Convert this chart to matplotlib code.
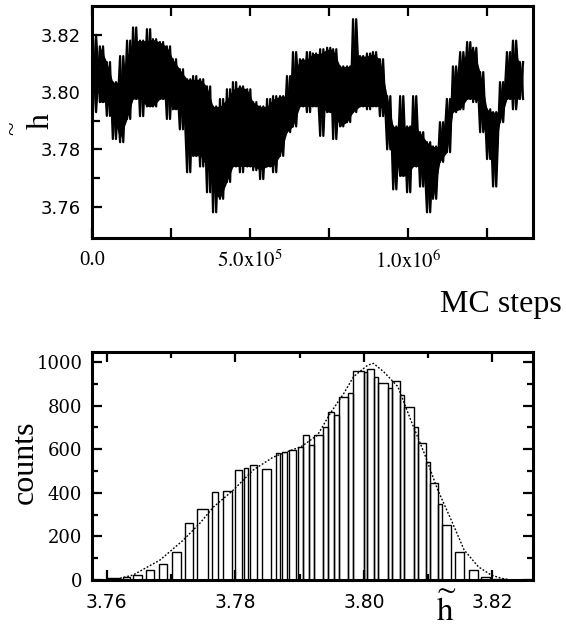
import numpy as np
import matplotlib
matplotlib.use("Agg")
import matplotlib.pyplot as plt

plt.rcParams['mathtext.fontset'] = 'stix'

# --- top panel: h~ versus MC steps (upper / lower envelope read per slice) ---
steps_k = [3, 25, 47, 66, 89, 111, 130, 152, 174, 193, 215, 237, 256, 278, 301,
           320, 342, 364, 383, 405, 427, 446, 468, 491, 510, 532, 554, 573, 595,
           617, 636, 658, 680, 699, 722, 744, 763, 785, 807, 826, 848, 870, 889,
           911, 934, 953, 975, 997, 1016, 1038, 1060, 1079, 1101, 1123, 1142,
           1165, 1187, 1206, 1228, 1250, 1269, 1291, 1313, 1332, 1354]
h_hi = [3.820, 3.816, 3.8105, 3.8035, 3.8126, 3.818, 3.8226, 3.818, 3.822, 3.8185,
        3.8175, 3.816, 3.8115, 3.808, 3.8045, 3.8056, 3.8045, 3.802, 3.795, 3.7976,
        3.801, 3.8035, 3.802, 3.801, 3.7965, 3.795, 3.7976, 3.7986, 3.7986, 3.8056,
        3.814, 3.8115, 3.814, 3.8135, 3.815, 3.8155, 3.815, 3.809, 3.809, 3.8255,
        3.8126, 3.8135, 3.814, 3.8115, 3.7986, 3.788, 3.7986, 3.788, 3.7986, 3.786,
        3.7825, 3.781, 3.7895, 3.7976, 3.809, 3.814, 3.8175, 3.8155, 3.807, 3.794,
        3.793, 3.8035, 3.814, 3.818, 3.8105]
h_lo = [3.793, 3.7965, 3.7917, 3.7836, 3.7825, 3.7906, 3.7976, 3.7916, 3.795, 3.795,
        3.7976, 3.7906, 3.794, 3.787, 3.772, 3.7777, 3.774, 3.765, 3.758, 3.7627,
        3.7686, 3.774, 3.772, 3.774, 3.7727, 3.7696, 3.774, 3.772, 3.7777, 3.786,
        3.788, 3.795, 3.793, 3.795, 3.7847, 3.793, 3.7836, 3.788, 3.7895, 3.793,
        3.795, 3.794, 3.795, 3.7916, 3.780, 3.766, 3.7707, 3.765, 3.774, 3.767,
        3.758, 3.7627, 3.7756, 3.779, 3.793, 3.794, 3.7976, 3.7965, 3.786, 3.7766,
        3.767, 3.7895, 3.7976, 3.794, 3.7976]

# --- bottom panel: histogram of h~ ---
bin_left = [3.7600, 3.7609, 3.7625, 3.7641, 3.7661, 3.7681, 3.7702, 3.7722, 3.7741,
            3.7763, 3.7781, 3.7800, 3.7814, 3.7823, 3.7842, 3.7863, 3.7872, 3.7883,
            3.7897, 3.7905, 3.7914, 3.7922, 3.7936, 3.7944, 3.7953, 3.7961, 3.7975,
            3.7983, 3.8000, 3.8005, 3.8016, 3.8022, 3.8038, 3.8044, 3.8056, 3.8063,
            3.8078, 3.8084, 3.8097, 3.8103, 3.8116, 3.8122, 3.8142, 3.8163, 3.8183,
            3.8202]
bin_right = [3.7609, 3.7620, 3.7636, 3.7655, 3.7673, 3.7694, 3.7716, 3.7734, 3.7758,
             3.7773, 3.7795, 3.7811, 3.7820, 3.7834, 3.7856, 3.7870, 3.7881, 3.7895,
             3.7905, 3.7914, 3.7922, 3.7936, 3.7944, 3.7953, 3.7961, 3.7975, 3.7983,
             3.8000, 3.8005, 3.8016, 3.8022, 3.8038, 3.8044, 3.8056, 3.8063, 3.8078,
             3.8084, 3.8097, 3.8103, 3.8116, 3.8122, 3.8136, 3.8156, 3.8177, 3.8197,
             3.8219]
counts = [8, 10, 15, 23, 46, 73, 128, 261, 326, 404, 410, 505, 513, 527, 508, 583,
          588, 598, 611, 665, 620, 665, 700, 772, 757, 841, 860, 960, 955, 968, 930,
          905, 880, 914, 850, 795, 700, 628, 540, 445, 350, 252, 128, 46, 14, 5]

fit_x = [3.761, 3.7641, 3.7683, 3.7719, 3.7745, 3.7766, 3.7797, 3.7828, 3.7859,
         3.7891, 3.7902, 3.7928, 3.7948, 3.7969, 3.7984, 3.8006, 3.8015, 3.8031,
         3.8053, 3.8073, 3.8094, 3.8115, 3.8136, 3.8156, 3.8178, 3.8198, 3.8214, 3.823]
fit_y = [0, 23, 92, 183, 261, 335, 413, 505, 564, 600, 611, 665, 766, 857, 933,
         986, 994, 955, 887, 734, 582, 413, 275, 138, 61, 23, 8, 0]

fig = plt.figure(figsize=(5.66, 6.28), dpi=100)
ax1 = fig.add_axes([0.1625, 0.621, 0.779, 0.369])
ax2 = fig.add_axes([0.1625, 0.0764, 0.779, 0.363])

# crossing zig-zags between lower and upper envelope -> dense noisy trace
lo = np.array(h_lo)
hi = np.array(h_hi)
t = np.array(steps_k) * 1e3
zx = np.column_stack([t, t + 1.0e4]).ravel()
zy_a = np.column_stack([lo, hi]).ravel()
zy_b = np.column_stack([hi, lo]).ravel()
ax1.plot(np.concatenate([[0.0], zx]), np.concatenate([[3.820], zy_a]),
         color="black", lw=1.6)
ax1.plot(zx, zy_b, color="black", lw=1.6)
ax1.fill_between(zx, zy_a, zy_b, color="black", lw=0)
# band shared by neighbouring slices
ax1.fill_between(t[1:], np.maximum(lo[:-1], lo[1:]), np.minimum(hi[:-1], hi[1:]),
                 color="black", lw=0)

ax1.set_xlim(0, 1.395e6)
ax1.set_ylim(3.749, 3.830)
ax1.set_xticks([0, 2.5e5, 5e5, 7.5e5, 1e6, 1.25e6])
ax1.set_xticklabels(["0.0", "", r"$5.0\mathrm{x}10^5$", "", r"$1.0\mathrm{x}10^6$", ""],
                    fontsize=15, family="Liberation Serif")
ax1.set_yticks([3.76, 3.78, 3.80, 3.82])
ax1.set_yticklabels(["3.76", "3.78", "3.80", "3.82"], fontsize=13, family="DejaVu Sans")
ax1.set_yticks([3.77, 3.79, 3.81], minor=True)
ax1.tick_params(direction="in", top=True, right=False, length=7, width=1.6, pad=8)
ax1.tick_params(which="minor", direction="in", length=6, width=1.6)
ax1.tick_params(axis="x", pad=9)

# histogram
ax2.bar(bin_left, counts, width=np.array(bin_right) - np.array(bin_left), align="edge",
        fill=False, edgecolor="black", lw=1.0)
ax2.plot(fit_x, fit_y, color="black", lw=1.0, ls=(0, (1.3, 1.3)))
ax2.set_xlim(3.7577, 3.8263)
ax2.set_ylim(0, 1046)
ax2.set_xticks([3.76, 3.78, 3.80, 3.82])
ax2.set_xticklabels(["3.76", "3.78", "3.80", "3.82"], fontsize=13.5, family="DejaVu Sans")
ax2.set_xticks([3.77, 3.79, 3.81], minor=True)
ax2.set_yticks(range(0, 1001, 200))
ax2.set_yticklabels([str(v) for v in range(0, 1001, 200)], fontsize=13, family="DejaVu Serif")
ax2.set_yticks(range(100, 1001, 200), minor=True)
ax2.tick_params(direction="in", top=True, right=True, length=7, width=1.6, pad=7)
ax2.tick_params(which="minor", direction="in", top=True, right=True, length=4, width=1.6)
ax2.tick_params(axis="x", pad=9)

for ax in (ax1, ax2):
    for s in ax.spines.values():
        s.set_linewidth(2.2)

# labels
fig.text(562 / 566, 1 - 312 / 628, "MC steps", fontsize=23, family="Liberation Serif",
         ha="right", va="baseline")
fig.text(25 / 566, 1 - 462 / 628, "counts", fontsize=23, family="Liberation Serif",
         rotation=90, ha="center", va="center")
fig.text(41 / 566, 1 - 121 / 628, "h", fontsize=23, family="Liberation Serif",
         rotation=90, ha="center", va="center")
fig.text(13 / 566, 1 - 128 / 628, "~", fontsize=18, family="Liberation Serif",
         rotation=90, ha="center", va="center")
fig.text(446 / 566, 1 - 621 / 628, r"$\widetilde{\mathrm{h}}$", fontsize=24,
         ha="center", va="baseline")

fig.savefig("out.png", dpi=100)
